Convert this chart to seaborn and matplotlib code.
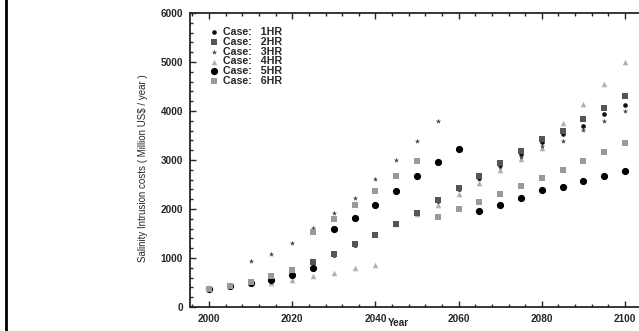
import matplotlib
matplotlib.use("Agg")
import matplotlib.pyplot as plt
import seaborn as sns
import numpy as np
import pandas as pd
from matplotlib.ticker import MultipleLocator
from matplotlib.lines import Line2D

# Salinity intrusion costs per case (Million US$ / year), every 5 years
years = list(range(2000, 2101, 5))
case_1hr = [367, 430, 490, 550, 655, 900, 1070, 1270, 1460, 1690, 1910, 2170,
            2400, 2640, 2890, 3120, 3370, 3530, 3700, 3932, 4122]
case_2hr = [367, 430, 516, 632, 755, 912, 1080, 1278, 1469, 1700, 1920, 2184,
            2422, 2673, 2940, 3190, 3430, 3590, 3837, 4068, 4312]
case_3hr = [367, 430, 930, 1080, 1315, 1620, 1912, 2224, 2612, 3000, 3394, 3803,
            2400, 2620, 2860, 3060, 3290, 3388, 3612, 3803, 4006]
case_4hr = [367, 430, 490, 496, 550, 630, 700, 803, 864, 1690, 1900, 2080,
            2306, 2530, 2800, 3014, 3245, 3748, 4136, 4551, 4993]
case_5hr = [367, 430, 490, 550, 655, 790, 1590, 1823, 2080, 2374, 2673, 2959,
            3218, 1960, 2080, 2215, 2388, 2440, 2571, 2673, 2770]
case_6hr = [367, 430, 516, 632, 755, 1540, 1795, 2080, 2374, 2670, 2986, 1830,
            1993, 2150, 2306, 2469, 2630, 2790, 2986, 3157, 3340]

case_names = ["1HR", "2HR", "3HR", "4HR", "5HR", "6HR"]
case_values = [case_1hr, case_2hr, case_3hr, case_4hr, case_5hr, case_6hr]

# marker, colour, size, zorder
styles = {
    "1HR": ("o", "#111111", 11, 4),
    "2HR": ("s", "#555555", 22, 5),
    "3HR": ("*", "#444444", 16, 3),
    "4HR": ("^", "#b0b0b0", 16, 2),
    "5HR": ("o", "#000000", 27, 6),
    "6HR": ("s", "#9a9a9a", 22, 6),
}

sns.set_style("ticks")
plt.rcParams['font.family'] = ['Liberation Sans', 'DejaVu Sans']

fig = plt.figure(figsize=(6.39, 3.31), dpi=100)
ax = fig.add_axes([190 / 639, 24 / 331, 470 / 639, 294 / 331])

for name, vals in zip(case_names, case_values):
    marker, color, size, z = styles[name]
    sns.scatterplot(x=years, y=vals, ax=ax, marker=marker, color=color, s=size,
                    linewidth=0, label=f"Case:   {name}", zorder=z)

ax.set_xlim(1995.43, 2108.4)
ax.set_ylim(0, 6000)
ax.xaxis.set_major_locator(MultipleLocator(20))
ax.xaxis.set_minor_locator(MultipleLocator(4))
ax.yaxis.set_major_locator(MultipleLocator(1000))
ax.yaxis.set_minor_locator(MultipleLocator(200))
ax.tick_params(which="both", direction="in", top=True, right=False, width=1)
ax.tick_params(which="major", length=4, labelsize=7.2, pad=5)
ax.tick_params(which="minor", length=2)
for lbl in ax.get_xticklabels() + ax.get_yticklabels():
    lbl.set_fontweight("bold")

for side in ["left", "bottom", "top"]:
    ax.spines[side].set_linewidth(1.3)
ax.spines["right"].set_visible(False)

ax.set_xlabel("Year", fontsize=7.2, fontweight="bold")
ax.xaxis.set_label_coords((398 - 190) / 470, -0.054)
ax.xaxis.label.set_va("center")
ax.set_ylabel("Salinity Intrusion costs ( Million US$ / year )", fontsize=7)
ax.yaxis.set_label_coords((143 - 190) / 470, (307 - 168) / 294)
ax.yaxis.label.set_va("center")

leg = ax.legend(loc="upper left", bbox_to_anchor=(0.039, 0.952), frameon=False,
                prop={"size": 7.7, "weight": "bold"}, handlelength=1.0,
                handletextpad=0.4, labelspacing=-0.02, borderaxespad=0,
                borderpad=0)

fig.add_artist(Line2D([6 / 639, 6 / 639], [0, 1], color="black", lw=2,
                      transform=fig.transFigure))

fig.savefig("out.png", dpi=100)
